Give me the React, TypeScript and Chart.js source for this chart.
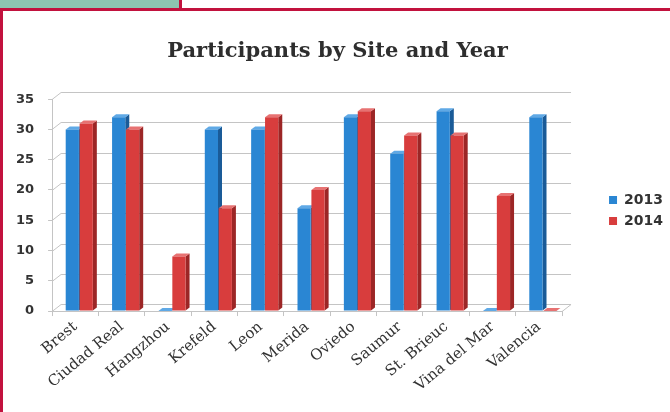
import React, { useEffect, useRef } from 'react';
import { Chart, registerables } from 'chart.js';

Chart.register(...registerables);

const sites = ['Brest', 'Ciudad Real', 'Hangzhou', 'Krefeld', 'Leon', 'Merida', 'Oviedo', 'Saumur', 'St. Brieuc', 'Vina del Mar', 'Valencia'];
const values2013 = [30, 32, 0, 30, 30, 17, 32, 26, 33, 0, 32];
const values2014 = [31, 30, 9, 17, 32, 20, 33, 29, 29, 19, 0];
const seriesNames = ['2013', '2014'];
const chartTitle = 'Participants by Site and Year';

const frontColors = ['#2a86d3', '#d83d3d'];
const sideColors = ['#1a5b98', '#9c2626'];
const topColors = ['#5fa9e6', '#e77272'];
const gridColor = '#c4c4c4';
const DX = 9;
const DY = -7;
const BDX = 4;
const BDY = -3;
const BAR_SHIFT = 4;

const threeD = {
  id: 'threeD',
  beforeDatasetsDraw(chart: any) {
    const { ctx, chartArea, scales } = chart;
    const { left, right, bottom } = chartArea;
    const y = scales.y;
    ctx.save();
    ctx.strokeStyle = gridColor;
    ctx.lineWidth = 1;
    y.ticks.forEach((t: any) => {
      const py = Math.round(y.getPixelForValue(t.value)) + 0.5;
      ctx.beginPath();
      ctx.moveTo(left, py);
      ctx.lineTo(left + DX, py + DY);
      ctx.lineTo(right + DX, py + DY);
      ctx.stroke();
    });
    ctx.beginPath();
    ctx.moveTo(right, bottom + 0.5);
    ctx.lineTo(right + DX, bottom + 0.5 + DY);
    ctx.stroke();
    ctx.restore();
    // shift the bar layer slightly, as the 3D perspective does
    ctx.save();
    ctx.translate(BAR_SHIFT, 0);
    chart.data.datasets.forEach((_ds: any, i: number) => {
      const meta = chart.getDatasetMeta(i);
      meta.data.forEach((bar: any) => {
        const p = bar.getProps(['x', 'y', 'base', 'width'], true);
        const l = p.x - p.width / 2;
        const r = p.x + p.width / 2;
        ctx.fillStyle = sideColors[i];
        ctx.beginPath();
        ctx.moveTo(r, p.y);
        ctx.lineTo(r + BDX, p.y + BDY);
        ctx.lineTo(r + BDX, p.base + BDY);
        ctx.lineTo(r, p.base);
        ctx.closePath();
        ctx.fill();
        ctx.fillStyle = topColors[i];
        ctx.beginPath();
        ctx.moveTo(l, p.y);
        ctx.lineTo(l + BDX, p.y + BDY);
        ctx.lineTo(r + BDX, p.y + BDY);
        ctx.lineTo(r, p.y);
        ctx.closePath();
        ctx.fill();
      });
    });
  },
  afterDatasetsDraw(chart: any) {
    chart.ctx.restore();
  },
};

export default function App() {
  const ref = useRef<HTMLCanvasElement | null>(null);
  useEffect(() => {
    if (!ref.current) return;
    const chart = new Chart(ref.current, {
      type: 'bar',
      data: {
        labels: sites,
        datasets: [
          { label: seriesNames[0], data: values2013, backgroundColor: frontColors[0], borderWidth: 0, categoryPercentage: 0.6, barPercentage: 0.95 },
          { label: seriesNames[1], data: values2014, backgroundColor: frontColors[1], borderWidth: 0, categoryPercentage: 0.6, barPercentage: 0.95 },
        ],
      },
      options: {
        animation: false,
        responsive: false,
        maintainAspectRatio: false,
        layout: { padding: { left: 2, right: -3, top: 0, bottom: 15 } },
        plugins: {
          title: {
            display: true,
            text: chartTitle,
            color: '#2e2e2e',
            font: { family: 'DejaVu Serif', size: 21, weight: 'bold' },
            padding: { top: 39, bottom: 35 },
          },
          legend: {
            position: 'right',
            title: { display: true, text: ' ', font: { size: 10 }, padding: 6 },
            labels: {
              boxWidth: 8,
              boxHeight: 8,
              padding: 7,
              color: '#333',
              font: { family: 'DejaVu Sans', size: 14, weight: 'bold' },
            },
          },
          tooltip: { enabled: false },
        },
        scales: {
          x: {
            grid: { display: true, drawOnChartArea: false, drawTicks: true, tickLength: 5, color: gridColor, offset: true },
            border: { display: true, color: gridColor },
            ticks: {
              minRotation: 40,
              maxRotation: 40,
              padding: 2,
              color: '#333',
              font: { family: 'DejaVu Serif', size: 15 },
            },
          },
          y: {
            min: 0,
            max: 35,
            grid: { display: true, drawOnChartArea: false, drawTicks: true, tickLength: 4, color: gridColor },
            border: { display: true, color: gridColor },
            ticks: {
              stepSize: 5,
              padding: 14,
              color: '#333',
              font: { family: 'DejaVu Sans', size: 13, weight: 'bold' },
            },
          },
          yRight: {
            position: 'right',
            display: true,
            grid: { display: false },
            border: { display: false },
            ticks: { display: false },
            afterFit: (s: any) => { s.width = 40; },
          },
        },
      },
      plugins: [threeD],
    } as any);
    return () => chart.destroy();
  }, []);

  return (
    <div style={{ position: 'fixed', left: 0, top: 0, width: 670, height: 412, background: '#fff', overflow: 'hidden' }}>
      <canvas ref={ref} width={670} height={412} style={{ position: 'absolute', left: 0, top: 0, width: 670, height: 412 }} />
      <div style={{ position: 'absolute', left: 0, top: 0, width: 179, height: 8, background: '#8dc6b1' }} />
      <div style={{ position: 'absolute', left: 179, top: 0, width: 3, height: 9, background: '#c2123e' }} />
      <div style={{ position: 'absolute', left: 0, top: 8, width: 670, height: 3, background: '#c2123e' }} />
      <div style={{ position: 'absolute', left: 0, top: 8, width: 3, height: 404, background: '#c2123e' }} />
    </div>
  );
}
